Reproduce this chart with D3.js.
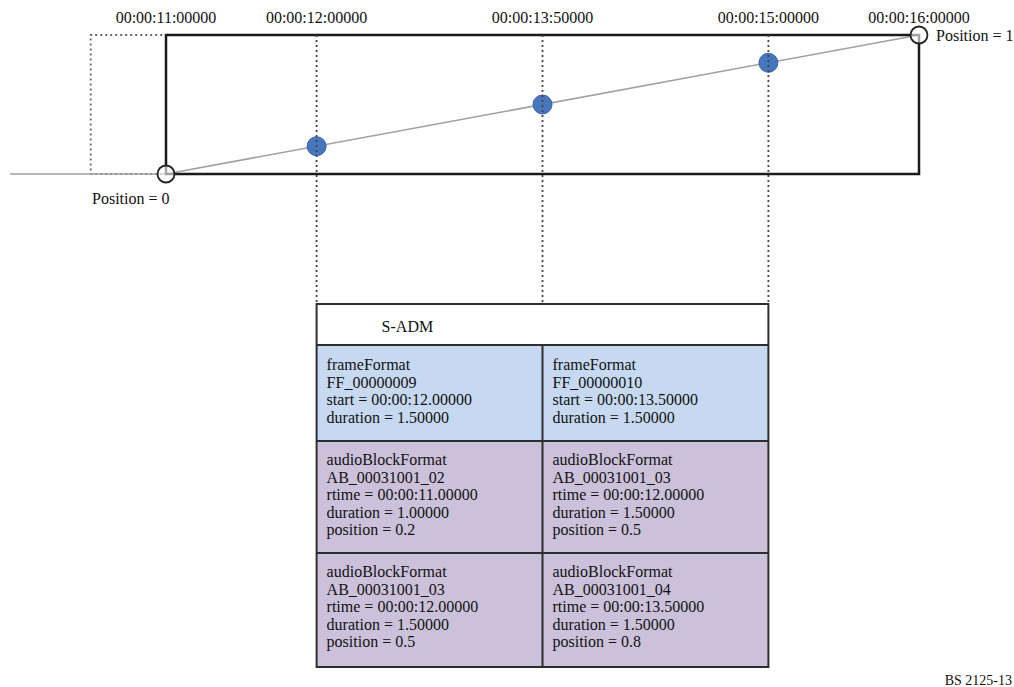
<!DOCTYPE html>
<html>
<head>
<meta charset="utf-8">
<script src="https://cdn.jsdelivr.net/npm/d3@7"></script>
<style>
  body { margin: 0; background: #fff; }
  text { font-family: "Liberation Serif", "Times New Roman", serif; font-size: 16px; fill: #111; }
</style>
</head>
<body>
<svg id="chart" width="1014" height="687"></svg>
<script>
// time ticks along the top
const tickTimes = [11, 12, 13.5, 15, 16];
const tickLabels = ["00:00:11:00000", "00:00:12:00000", "00:00:13:50000", "00:00:15:00000", "00:00:16:00000"];

// block interpolation: start/end positions and frame boundary points
const endTimes = [11, 16];
const endPositions = [0, 1];
const endLabels = ["Position = 0", "Position = 1"];
const frameTimes = [12, 13.5, 15];
const framePositions = [0.2, 0.5, 0.8];

// S-ADM table contents
const frameCells = [
    ["frameFormat", "FF_00000009", "start = 00:00:12.00000", "duration = 1.50000"],
    ["frameFormat", "FF_00000010", "start = 00:00:13.50000", "duration = 1.50000"]
];
const blockCellsA = [
    ["audioBlockFormat", "AB_00031001_02", "rtime = 00:00:11.00000", "duration = 1.00000", "position = 0.2"],
    ["audioBlockFormat", "AB_00031001_03", "rtime = 00:00:12.00000", "duration = 1.50000", "position = 0.5"]
];
const blockCellsB = [
    ["audioBlockFormat", "AB_00031001_03", "rtime = 00:00:12.00000", "duration = 1.50000", "position = 0.5"],
    ["audioBlockFormat", "AB_00031001_04", "rtime = 00:00:13.50000", "duration = 1.50000", "position = 0.8"]
];

const svg = d3.select("#chart");
const x = d3.scaleLinear().domain([11, 16]).range([166, 919]);
const y = d3.scaleLinear().domain([0, 1]).range([174, 35]);

const tableTop = 304, headerBottom = 345, row2Bottom = 441, row3Bottom = 553, tableBottom = 667;
const dotted = "2,3";

// dotted previous-block outline (runs on under the solid box edges)
svg.append("path")
    .attr("d", `M${x(13)},${y(1)} H${x(10.5)} V${y(0)} H${x(13)}`)
    .attr("fill", "none")
    .attr("stroke", "#666")
    .attr("stroke-width", 1.8)
    .attr("stroke-dasharray", dotted);

// gray position line
svg.append("path")
    .attr("d", `M10,${y(0)} H${x(11)} L${x(16)},${y(1)}`)
    .attr("fill", "none")
    .attr("stroke", "#a0a0a0")
    .attr("stroke-width", 1.5);

// solid block outline
svg.append("rect")
    .attr("x", x(11)).attr("y", y(1))
    .attr("width", x(16) - x(11)).attr("height", y(0) - y(1))
    .attr("fill", "none")
    .attr("stroke", "#1a1a1a")
    .attr("stroke-width", 2.5);

// end circles
svg.append("g").selectAll("circle")
    .data(endTimes)
    .enter().append("circle")
    .attr("cx", d => x(d))
    .attr("cy", (d, i) => y(endPositions[i]))
    .attr("r", 8.5)
    .attr("fill", "#fff")
    .attr("fill-opacity", 0.6)
    .attr("stroke", "#222")
    .attr("stroke-width", 1.8);

// blue frame points
svg.append("g").selectAll("circle")
    .data(frameTimes)
    .enter().append("circle")
    .attr("cx", d => x(d))
    .attr("cy", (d, i) => y(framePositions[i]))
    .attr("r", 9.5)
    .attr("fill", "#4677bd")
    .attr("stroke", "#3a66a8")
    .attr("stroke-width", 1);

// dotted vertical guides from the frame boundaries down to the table
svg.append("g").selectAll("line")
    .data(frameTimes)
    .enter().append("line")
    .attr("x1", d => x(d)).attr("x2", d => x(d))
    .attr("y1", y(1)).attr("y2", tableTop)
    .attr("stroke", "#444")
    .attr("stroke-width", 1.8)
    .attr("stroke-dasharray", dotted);

// top tick labels
svg.append("g").selectAll("text")
    .data(tickTimes)
    .enter().append("text")
    .attr("x", d => x(d))
    .attr("y", 23)
    .attr("text-anchor", "middle")
    .text((d, i) => tickLabels[i]);

svg.append("text").attr("x", x(11) - 74).attr("y", 204).text(endLabels[0]);
svg.append("text").attr("x", x(16) + 17).attr("y", 41).text(endLabels[1]);

// table
const colX = [x(12), x(13.5), x(15)];
const rows = [
    { top: headerBottom, bottom: row2Bottom, fill: "#c6d9f1", cells: frameCells, base: 370 },
    { top: row2Bottom, bottom: row3Bottom, fill: "#ccc1da", cells: blockCellsA, base: 465 },
    { top: row3Bottom, bottom: tableBottom, fill: "#ccc1da", cells: blockCellsB, base: 577 }
];

svg.append("rect")
    .attr("x", colX[0]).attr("y", tableTop)
    .attr("width", colX[2] - colX[0]).attr("height", headerBottom - tableTop)
    .attr("fill", "#fff");
svg.append("text").attr("x", colX[0] + 65).attr("y", 332).text("S-ADM");

rows.forEach(r => {
    const g = svg.append("g");
    g.selectAll("rect")
        .data(r.cells)
        .enter().append("rect")
        .attr("x", (d, i) => colX[i])
        .attr("y", r.top)
        .attr("width", (d, i) => colX[i + 1] - colX[i])
        .attr("height", r.bottom - r.top)
        .attr("fill", r.fill);
    r.cells.forEach((lines, i) => {
        g.append("g").selectAll("text")
            .data(lines)
            .enter().append("text")
            .attr("x", colX[i] + 10)
            .attr("y", (d, j) => r.base + j * 17.6)
            .text(d => d);
    });
});

// table grid lines
const grid = svg.append("g").attr("stroke", "#2e2e2e").attr("stroke-width", 2).attr("fill", "none");
grid.append("rect")
    .attr("x", colX[0]).attr("y", tableTop)
    .attr("width", colX[2] - colX[0]).attr("height", tableBottom - tableTop);
[headerBottom, row2Bottom, row3Bottom].forEach(yy => {
    grid.append("line").attr("x1", colX[0]).attr("x2", colX[2]).attr("y1", yy).attr("y2", yy);
});
grid.append("line").attr("x1", colX[1]).attr("x2", colX[1]).attr("y1", headerBottom).attr("y2", tableBottom);

svg.append("text")
    .attr("x", 1012).attr("y", 685)
    .attr("text-anchor", "end")
    .style("font-size", "14px")
    .text("BS 2125-13");
</script>
</body>
</html>
